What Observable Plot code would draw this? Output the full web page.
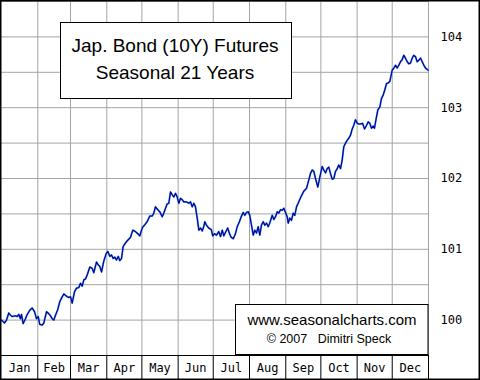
<!DOCTYPE html>
<html>
<head>
<meta charset="utf-8">
<script src="https://cdn.jsdelivr.net/npm/d3@7"></script>
<script src="https://cdn.jsdelivr.net/npm/@observablehq/plot@0.6"></script>
<style>
  html, body { margin: 0; padding: 0; background: white; }
  #chart svg { display: block; }
</style>
</head>
<body>
<div id="chart"></div>
<script>
// ---- Data ----
const monthNames = ["Jan","Feb","Mar","Apr","May","Jun","Jul","Aug","Sep","Oct","Nov","Dec"];
const monthBounds = [0,31,59,90,120,151,181,212,243,273,304,334,365];
const yTicks = [100,101,102,103,104];
const yGrid = [100,100.5,101,101.5,102,102.5,103,103.5,104,104.5];
const titleLines = ["Jap. Bond (10Y) Futures","Seasonal 21 Years"];
const captionLines = ["www.seasonalcharts.com","\u00a9 2007\u00a0\u00a0\u00a0Dimitri Speck"];

// day of year
const days = [
  0,2.6,4.3,6.2,7.7,9.1,12.0,13.4,14.8,16.2,17.1,18.5,20.5,22.0,24.2,26.2,28.2,29.9,31.4,32.7,
  34.8,36.2,38.5,40.4,41.9,43.3,44.7,46.2,48.1,49.8,51.9,53.3,54.7,56.2,57.5,59.0,60.4,62.4,64.1,66.1,
  67.5,69.0,70.4,71.8,73.3,75.5,77.5,78.9,81.2,82.7,84.0,85.5,87.4,89.5,90.9,92.6,94.0,95.5,96.8,98.3,
  99.8,101.1,102.6,104.0,106.0,108.0,110.3,112.2,114.5,116.5,118.2,120.5,122.2,124.5,126.8,128.8,130.2,131.6,133.6,135.3,
  137.4,138.7,140.2,141.6,143.0,144.5,145.9,147.3,148.7,150.2,151.6,153.0,154.5,155.8,158.1,160.1,161.6,163.0,164.4,165.8,
  167.3,168.7,170.1,171.6,172.9,173.8,175.2,177.2,179.3,180.6,182.1,183.8,185.7,187.2,188.7,190.0,192.1,193.4,194.9,196.3,
  198.1,200.0,201.5,203.4,204.9,206.6,208.0,209.4,210.9,212.2,213.7,215.2,216.5,218.0,219.4,220.8,222.2,223.7,225.1,226.5,
  228.0,229.3,231.4,232.8,234.2,235.7,237.0,238.5,239.9,241.3,242.8,244.2,245.1,246.4,247.9,249.3,250.7,252.2,254.1,256.2,
  258.4,260.7,262.7,264.1,265.6,267.0,268.4,270.4,272.1,274.1,275.5,277.0,278.4,279.8,281.2,282.7,284.1,285.5,287.0,288.3,
  289.8,291.2,292.6,294.1,295.5,296.9,298.3,299.8,301.1,302.6,304.1,305.4,306.9,308.6,310.3,312.0,313.5,314.8,316.3,317.7,
  318.8,320.3,321.7,323.4,324.8,326.3,327.6,329.1,330.6,331.9,333.1,334.0,335.4,336.8,338.2,339.6,341.1,342.5,343.9,345.3,
  346.8,348.2,349.6,351.1,352.4,353.9,355.3,356.7,358.2,359.6,361.0,362.4,364.7
];
// seasonal index value
const values = [
  100.00,99.96,100.00,100.10,100.07,100.05,100.06,100.05,100.08,100.02,100.08,99.95,100.02,100.08,100.14,100.17,100.12,100.02,100.05,99.94,
  99.93,99.96,100.12,100.09,100.06,100.02,100.00,100.07,100.15,100.26,100.33,100.37,100.35,100.33,100.32,100.33,100.24,100.40,100.45,100.46,
  100.52,100.48,100.57,100.58,100.64,100.75,100.73,100.67,100.82,100.78,100.76,100.68,100.83,100.94,100.97,100.90,100.92,100.87,100.89,100.85,
  100.90,100.84,100.87,101.04,101.09,101.13,101.17,101.27,101.25,101.22,101.19,101.31,101.34,101.39,101.47,101.47,101.51,101.60,101.56,101.53,
  101.46,101.51,101.58,101.64,101.65,101.81,101.77,101.74,101.79,101.74,101.65,101.72,101.70,101.67,101.67,101.65,101.67,101.60,101.65,101.60,
  101.44,101.27,101.30,101.26,101.32,101.39,101.34,101.30,101.28,101.19,101.22,101.20,101.25,101.18,101.27,101.19,101.26,101.30,101.22,101.17,
  101.15,101.22,101.32,101.39,101.46,101.52,101.48,101.52,101.53,101.48,101.34,101.20,101.27,101.23,101.32,101.20,101.34,101.39,101.34,101.37,
  101.32,101.37,101.48,101.42,101.46,101.53,101.51,101.56,101.55,101.58,101.52,101.46,101.37,101.44,101.41,101.51,101.48,101.60,101.67,101.75,
  101.82,101.86,101.98,102.07,102.12,102.10,102.00,101.88,102.02,102.17,102.12,102.08,102.14,102.16,102.07,101.99,102.00,102.10,102.14,102.19,
  102.14,102.26,102.45,102.50,102.54,102.57,102.61,102.70,102.75,102.83,102.78,102.77,102.77,102.78,102.70,102.75,102.80,102.78,102.71,102.74,
  102.71,102.85,102.97,103.01,103.13,103.18,103.25,103.34,103.35,103.37,103.46,103.53,103.56,103.60,103.56,103.60,103.65,103.68,103.74,103.70,
  103.65,103.62,103.63,103.70,103.74,103.72,103.65,103.67,103.70,103.65,103.60,103.56,103.53
];

const series = days.map((d, i) => ({day: d, value: values[i]}));
const monthMids = monthNames.map((m, i) => (monthBounds[i] + monthBounds[i + 1]) / 2);
const nameByMid = new Map(monthMids.map((m, i) => [m, monthNames[i]]));

const W = 480, H = 380;
const mono = "'DejaVu Sans Mono', monospace";
const sans = "'Liberation Sans', Arial, sans-serif";

const svg = Plot.plot({
  width: W,
  height: H,
  marginLeft: 1,
  marginRight: 52,
  marginTop: 1,
  marginBottom: 25,
  style: {background: "white", fontFamily: mono, overflow: "visible"},
  x: {domain: [monthBounds[0], monthBounds[12]], label: null},
  y: {domain: [99.5, 104.5], label: null},
  marks: [
    Plot.ruleX(monthBounds.slice(1), {stroke: "#a4a4a4", strokeWidth: 1}),
    Plot.ruleY(yGrid, {stroke: "#a4a4a4", strokeWidth: 1}),
    Plot.ruleY([99.5], {stroke: "black", strokeWidth: 1}),
    Plot.axisX(monthBounds.slice(1), {tickSize: 24, tickFormat: () => "", stroke: "black", strokeOpacity: 1, label: null}),
    Plot.axisX(monthMids, {tickSize: 0, tickPadding: 8, tickFormat: d => nameByMid.get(d), fontSize: 12, fontFamily: mono, fill: "black", label: null}),
    Plot.axisY(yTicks, {anchor: "right", tickSize: 0, tickPadding: 12, tickFormat: d => String(d), fontSize: 12, fontFamily: mono, fill: "black", label: null}),
    Plot.line(series, {x: "day", y: "value", stroke: "#4a90f0", strokeWidth: 1.9}),
    Plot.line(series, {x: "day", y: "value", stroke: "#000090", strokeWidth: 1.1})
  ]
});

document.getElementById("chart").appendChild(svg);

const s = d3.select(svg);
// Title box
const tg = s.append("g");
tg.append("rect").attr("x", 60.5).attr("y", 22.5).attr("width", 231).attr("height", 76)
  .attr("fill", "white").attr("stroke", "black").attr("stroke-width", 1);
tg.selectAll("text").data(titleLines).join("text")
  .attr("x", 175).attr("y", (d, i) => 51.5 + i * 27.5)
  .attr("text-anchor", "middle").attr("font-family", sans).attr("font-size", 19)
  .attr("fill", "black").text(d => d);

// Caption box
const cg = s.append("g");
cg.append("rect").attr("x", 235.5).attr("y", 304.5).attr("width", 192.5).attr("height", 50)
  .attr("fill", "white").attr("stroke", "black").attr("stroke-width", 1);
cg.selectAll("text").data(captionLines).join("text")
  .attr("x", (d, i) => i === 0 ? 332 : 329).attr("y", (d, i) => i === 0 ? 325 : 342.5)
  .attr("text-anchor", "middle").attr("font-family", sans)
  .attr("font-size", (d, i) => i === 0 ? 15 : 12.5)
  .attr("fill", "black").text(d => d);

// Outer border
s.append("rect").attr("x", 0.75).attr("y", 0.75).attr("width", W - 1.5).attr("height", H - 1.5)
  .attr("fill", "none").attr("stroke", "black").attr("stroke-width", 1.5);
</script>
</body>
</html>
